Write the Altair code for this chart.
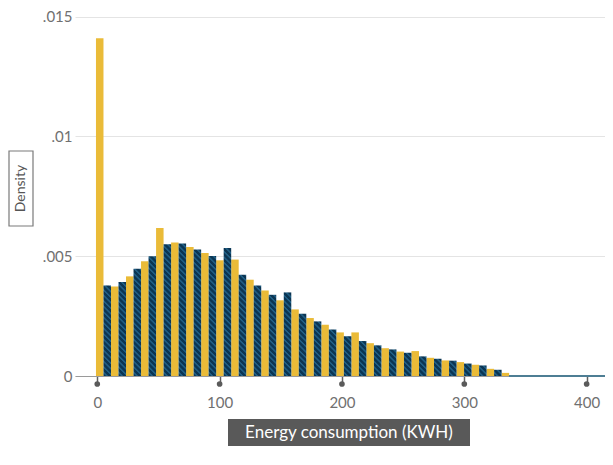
import altair as alt
import pandas as pd

# ---- data ----
bin_width = 12.28
first_edge = -1.06
yellow_vals = [0.01410, 0.00374, 0.00416, 0.00479, 0.00618, 0.00557, 0.00539,
               0.00514, 0.00483, 0.00486, 0.00402, 0.00357, 0.00316, 0.00278,
               0.00242, 0.00214, 0.00182, 0.00182, 0.00137, 0.00116, 0.00102,
               0.00104, 0.00076, 0.00065, 0.00058, 0.00047, 0.00030, 0.00013]
blue_vals = [0.00378, 0.00392, 0.00448, 0.00500, 0.00550, 0.00553, 0.00528,
             0.00501, 0.00534, 0.00423, 0.00378, 0.00339, 0.00349, 0.00260,
             0.00228, 0.00194, 0.00166, 0.00146, 0.00128, 0.00111, 0.00097,
             0.00082, 0.00072, 0.00064, 0.00052, 0.00044, 0.00026]
blue_tail = [336.5, 415.0]          # near-zero density tail of the blue series
x_ticks = [0, 100, 200, 300, 400]
y_ticks = [0, 0.005, 0.01, 0.015]
y_tick_labels = ["0", ".005", ".01", ".015"]
x_title = "Energy consumption (KWH)"
y_title = "Density"

# ---- styling ----
YELLOW = "#EABB38"
NAVY = "#0B3553"
STRIPE = "#1F5E84"
LABEL = "#707070"
FONT = "Lato"

W, H = 530, 366
x_dom = [-18.2, 415.0]
y_dom = [0, 0.01528]
px_per_x = W / (x_dom[1] - x_dom[0])
px_per_y = H / (y_dom[1] - y_dom[0])

rows = []
for i, v in enumerate(yellow_vals):
    s = first_edge + i * bin_width
    rows.append({"series": "yellow", "idx": i, "start": s, "end": s + bin_width / 2, "value": v})
for i, v in enumerate(blue_vals):
    s = first_edge + i * bin_width + bin_width / 2
    rows.append({"series": "blue", "idx": i, "start": s, "end": s + bin_width / 2, "value": v})
df = pd.DataFrame(rows)

xs = alt.Scale(domain=x_dom, nice=False, zero=False)
ys = alt.Scale(domain=y_dom, nice=False, zero=True)

label_expr = " : ".join(
    [f"datum.value == {v} ? '{l}'" for v, l in zip(y_ticks, y_tick_labels)]
) + " : ''"

x_axis = alt.Axis(values=x_ticks, format="d", title=None, grid=False,
                  tickSize=8, tickColor="#5f5f5f", tickWidth=1.5,
                  domainColor="#9a9a9a", domainWidth=1.2,
                  labelPadding=11, labelFontSize=15, labelColor=LABEL,
                  labelFont=FONT, labelFontWeight="normal")
y_axis = alt.Axis(values=y_ticks, labelExpr=label_expr, title=None, grid=True,
                  gridColor="#e4e4e4", gridWidth=1, domain=False, ticks=False,
                  labelPadding=3, labelFontSize=15, labelColor=LABEL,
                  labelFont=FONT)

base = alt.Chart(df)

yellow = base.transform_filter(alt.datum.series == "yellow").mark_bar(
    color=YELLOW).encode(
    x=alt.X("start:Q", scale=xs, axis=x_axis),
    x2="end:Q",
    y=alt.Y("value:Q", scale=ys, axis=y_axis),
    y2=alt.datum(0),
)


def hatch(h, w, period=5.5):
    L = w + h
    k = L / (w * w + h * h)
    x2 = w * k
    y2 = 1 - h * k
    profile = [(0.0, NAVY), (0.38, NAVY), (0.55, STRIPE), (0.78, STRIPE), (0.95, NAVY)]
    stops = []
    j = 0
    while j * period < L:
        for f, c in profile:
            off = (j + f) * period / L
            if off <= 1:
                stops.append({"offset": round(off, 5), "color": c})
        j += 1
    stops.append({"offset": 1, "color": NAVY})
    return {"gradient": "linear", "x1": 0, "y1": 1, "x2": x2, "y2": y2, "stops": stops}


bar_w_px = (bin_width / 2) * px_per_x
blue_layers = []
for i, v in enumerate(blue_vals):
    h = v * px_per_y
    blue_layers.append(
        base.transform_filter(
            (alt.datum.series == "blue") & (alt.datum.idx == i)
        ).mark_bar(color=hatch(h, bar_w_px)).encode(
            x=alt.X("start:Q", scale=xs),
            x2="end:Q",
            y=alt.Y("value:Q", scale=ys),
            y2=alt.datum(0),
        )
    )

tail = alt.Chart(pd.DataFrame({"start": [blue_tail[0]], "end": [blue_tail[1]], "zero": [0]})).mark_rule(
    color="#4E7E94", strokeWidth=2).encode(
    x=alt.X("start:Q", scale=xs), x2="end:Q", y=alt.Y("zero:Q", scale=ys))

dots = alt.Chart(pd.DataFrame({"tick": x_ticks})).mark_point(
    filled=True, size=32, color="#5a5a5a", opacity=1).encode(
    x=alt.X("tick:Q", scale=xs), y=alt.value(H + 8))

one = pd.DataFrame({"t": [y_title]})
ybox = alt.Chart(one).mark_rect(fill="white", stroke="#7a7a7a", strokeWidth=1.2).encode(
    x=alt.value(-66), x2=alt.value(-42), y=alt.value(141), y2=alt.value(216))
ytext = alt.Chart(one).mark_text(angle=270, fontSize=14, color="#555555", font=FONT,
                                 align="center", baseline="middle").encode(
    x=alt.value(-54), y=alt.value(178.5), text="t:N")

onex = pd.DataFrame({"t": [x_title]})
xbox = alt.Chart(onex).mark_rect(fill="#595959").encode(
    x=alt.value(153), x2=alt.value(395), y=alt.value(409), y2=alt.value(436))
xtext = alt.Chart(onex).mark_text(fontSize=17, color="white", font=FONT,
                                  align="center", baseline="middle").encode(
    x=alt.value(274), y=alt.value(423), text="t:N")

chart = alt.layer(yellow, *blue_layers, tail, dots, ybox, ytext, xbox, xtext).properties(
    width=W, height=H,
    padding={"left": 67, "top": 2, "right": 0, "bottom": 70},
    autosize=alt.AutoSizeParams(type="none"),
).configure_view(strokeWidth=0)

chart.save("out.html", embed_options={"renderer": "svg", "actions": False})
